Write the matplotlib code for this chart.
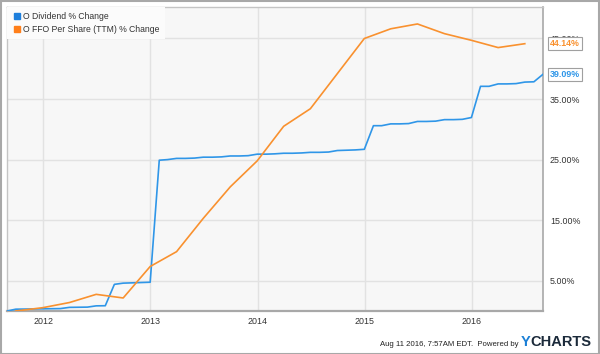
import matplotlib
matplotlib.use("Agg")
import matplotlib.pyplot as plt
from matplotlib.lines import Line2D
from matplotlib.patches import Rectangle
import pandas as pd
import datetime as dt

plt.rcParams['font.family'] = ['Liberation Sans', 'DejaVu Sans']

# ---- data ----
div_start = "2011-08-31"
div_values = [0.0, 0.30, 0.32, 0.34, 0.36, 0.38, 0.40, 0.60, 0.62, 0.64,
              0.85, 0.87, 4.40, 4.60, 4.65, 4.70, 4.75, 24.90, 25.00, 25.20,
              25.20, 25.25, 25.40, 25.40, 25.45, 25.60, 25.60, 25.65, 25.90, 25.90,
              25.95, 26.05, 26.05, 26.10, 26.20, 26.20, 26.25, 26.50, 26.55, 26.60,
              26.70, 30.60, 30.60, 30.90, 30.90, 30.95, 31.30, 31.30, 31.35, 31.60,
              31.60, 31.65, 31.95, 37.10, 37.10, 37.50, 37.50, 37.55, 37.80, 37.85,
              39.09]
ffo_start = "2011-09-30"
ffo_values = [0.0, 0.55, 1.40, 2.75, 2.15, 7.35, 9.80, 15.30, 20.50, 24.80,
              30.50, 33.40, 39.20, 45.00, 46.60, 47.40, 45.80, 44.70, 43.50, 44.14]
series_names = ["O Dividend % Change", "O FFO Per Share (TTM) % Change"]
year_ticks = [2012, 2013, 2014, 2015, 2016]
y_ticks = [5, 15, 25, 35, 45]
footer = "Aug 11 2016, 7:57AM EDT.  Powered by"

div_dates = pd.date_range(div_start, periods=len(div_values), freq=pd.offsets.MonthEnd())
ffo_dates = pd.date_range(ffo_start, periods=len(ffo_values), freq=pd.offsets.QuarterEnd())

BLUE = "#2f96e8"
ORANGE = "#f9912f"

fig = plt.figure(figsize=(6.0, 3.54), dpi=100)
W, H = 600, 354
ax = fig.add_axes([7 / W, (H - 311) / H, (543 - 7) / W, (311 - 7) / H])
ax.set_facecolor("#f7f7f7")

ax.plot(div_dates, div_values, color=BLUE, lw=1.2, zorder=3, solid_joinstyle="round")
ax.plot(ffo_dates, ffo_values, color=ORANGE, lw=1.2, zorder=3, solid_joinstyle="round")

ax.set_xlim(div_dates[0], div_dates[-1])
ax.set_ylim(0, 50.2)

ax.set_xticks([dt.datetime(y, 1, 1) for y in year_ticks])
ax.set_xticklabels([str(y) for y in year_ticks])
ax.set_yticks(y_ticks)
ax.set_yticklabels([f"{v:.2f}%" for v in y_ticks])
ax.yaxis.tick_right()
ax.tick_params(axis="both", length=0, labelsize=6.4, colors="#333333")
ax.tick_params(axis="y", pad=5)
ax.tick_params(axis="x", pad=4)

ax.grid(True, color="#e2e2e2", lw=1)
ax.set_axisbelow(True)

for s in ["top", "left"]:
    ax.spines[s].set_color("#c4c4c4")
    ax.spines[s].set_linewidth(1)
ax.spines["right"].set_color("#a8a8a8")
ax.spines["right"].set_linewidth(1.2)
ax.spines["bottom"].set_color("#a8a8a8")
ax.spines["bottom"].set_linewidth(1.6)

handles = [Line2D([], [], ls="none", marker="s", markersize=4.2, color="#1e7fdc"),
           Line2D([], [], ls="none", marker="s", markersize=4.2, color="#ff7f1a")]
leg = ax.legend(handles, series_names, loc="upper left", fontsize=6.2,
                frameon=True, facecolor="#fbfbfb", edgecolor="none", framealpha=1,
                borderaxespad=0.0, handletextpad=0.1, handlelength=1.2,
                labelspacing=0.4, borderpad=0.6, fancybox=False)
for t in leg.get_texts():
    t.set_color("#333333")

# end-value labels
for vals, col in [(ffo_values, ORANGE), (div_values, BLUE)]:
    ax.annotate(f"{vals[-1]:.2f}%", xy=(1.0, vals[-1]), xycoords=("axes fraction", "data"),
                xytext=(5, 0), textcoords="offset points", va="center", ha="left",
                fontsize=6.4, color=col, fontweight="bold", annotation_clip=False,
                zorder=10,
                bbox=dict(boxstyle="square,pad=0.25", fc="white", ec="#a0a0a0", lw=0.8))

# footer
fig.text(518 / W, 1 - 344 / H, footer, fontsize=5.6, color="#222222", ha="right", va="center")
fig.text(521 / W, 1 - 342 / H, "Y", fontsize=10.5, color="#1a7fd6", fontweight="bold",
         ha="left", va="center")
fig.text(530 / W, 1 - 342 / H, "CHARTS", fontsize=10.5, color="#1b2a3a", fontweight="bold",
         ha="left", va="center")

fig.patches.append(Rectangle((0.5 / W, 0.5 / H), 1 - 1.5 / W, 1 - 1.5 / H,
                             transform=fig.transFigure, fill=False,
                             ec="#a8a8a8", lw=1.5, zorder=20))

fig.savefig("out.png", dpi=100, facecolor="white")
